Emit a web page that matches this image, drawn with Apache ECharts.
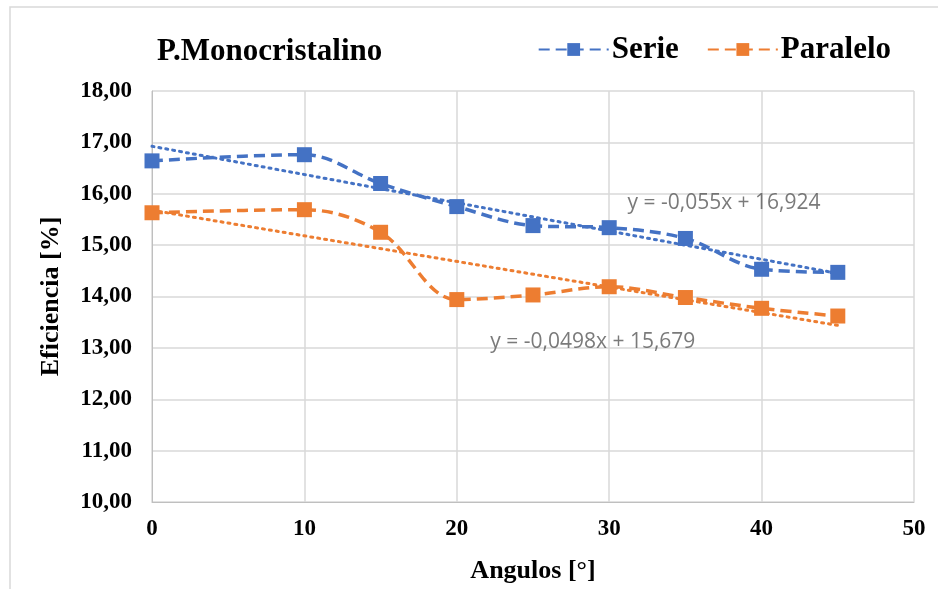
<!DOCTYPE html>
<html><head><meta charset="utf-8">
<script src="https://cdn.jsdelivr.net/npm/echarts@6/dist/echarts.min.js"></script>
<style>html,body{margin:0;padding:0;background:#fff}#c{width:938px;height:589px}</style>
</head><body><div id="c"></div>
<script>
var angulos = [0, 10, 15, 20, 25, 30, 35, 40, 45];
var serie = [16.64, 16.76, 16.20, 15.75, 15.38, 15.34, 15.13, 14.53, 14.47];
var paralelo = [15.63, 15.69, 15.25, 13.94, 14.03, 14.19, 13.98, 13.77, 13.62];
var trendX = [0, 45];
var trendSerie = [16.924, 14.449];
var trendParalelo = [15.679, 13.438];
var eqSerie = 'y = -0,055x + 16,924';
var eqParalelo = 'y = -0,0498x + 15,679';

function pairs(xs, ys){ return xs.map(function(x,i){ return [x, ys[i]]; }); }
var blue = '#4472C4', orange = '#ED7D31';
var serif = '"Liberation Serif","Times New Roman",serif';
var sans = '"Open Sans","Liberation Sans",sans-serif';
var chart = echarts.init(document.getElementById('c'), null, {renderer:'canvas'});
chart.setOption({
  animation: false,
  backgroundColor: '#fff',
  title: { text: 'P.Monocristalino', left: 152, top: 31,
    textStyle: { fontFamily: serif, fontWeight: 'bold', fontSize: 31, color: '#000' } },
  legend: { right: 42, top: 29, itemWidth: 70, itemHeight: 16, itemGap: 28,
    data: ['Serie', 'Paralelo'],
    textStyle: { fontFamily: serif, fontWeight: 'bold', fontSize: 31, color: '#000', padding: [0,0,0,-2] } },
  grid: { left: 152, right: 24, top: 91, bottom: 86 },
  xAxis: { type: 'value', min: 0, max: 50, interval: 10,
    name: 'Angulos [°]', nameLocation: 'middle', nameGap: 56,
    nameTextStyle: { fontFamily: serif, fontWeight: 'bold', fontSize: 26, color: '#000' },
    axisLine: { lineStyle: { color: '#bfbfbf', width: 1 } }, axisTick: { show: false },
    axisLabel: { fontFamily: serif, fontWeight: 'bold', fontSize: 23, color: '#000', margin: 16 },
    splitLine: { show: true, lineStyle: { color: '#d9d9d9', width: 1.5 } } },
  yAxis: { type: 'value', min: 10, max: 18, interval: 1,
    name: 'Eficiencia [%]', nameLocation: 'middle', nameGap: 88, nameRotate: 90,
    nameTextStyle: { fontFamily: serif, fontWeight: 'bold', fontSize: 26, color: '#000' },
    axisLine: { show: true, lineStyle: { color: '#bfbfbf', width: 1 } }, axisTick: { show: false },
    axisLabel: { fontFamily: serif, fontWeight: 'bold', fontSize: 23, color: '#000', margin: 20,
      formatter: function(v){ return v.toFixed(2).replace('.', ','); } },
    splitLine: { show: true, lineStyle: { color: '#d9d9d9', width: 1.5 } } },
  graphic: [
    { type: 'rect', shape: { x: 10, y: 7, width: 940, height: 600 }, style: { fill: 'none', stroke: '#d9d9d9', lineWidth: 1.5 }, silent: true }
  ],
  series: [
    { name: 'trendSerie', type: 'line', data: pairs(trendX, trendSerie), symbol: 'none',
      lineStyle: { color: blue, width: 3, type: [2, 5], cap: 'round' }, z: 2 },
    { name: 'trendParalelo', type: 'line', data: pairs(trendX, trendParalelo), symbol: 'none',
      lineStyle: { color: orange, width: 3, type: [2, 5], cap: 'round' }, z: 2 },
    { name: 'Serie', type: 'line', data: pairs(angulos, serie), smooth: 0.35,
      symbol: 'rect', symbolSize: 15, itemStyle: { color: blue },
      lineStyle: { color: blue, width: 3.5, type: [11, 6] }, z: 3 },
    { name: 'Paralelo', type: 'line', data: pairs(angulos, paralelo), smooth: 0.35,
      symbol: 'rect', symbolSize: 15, itemStyle: { color: orange },
      lineStyle: { color: orange, width: 3.5, type: [11, 6] }, z: 3 },
    { name: 'eq', type: 'scatter', symbolSize: 0, silent: true,
      data: [
        { value: [31.2, 15.82], label: { show: true, formatter: eqSerie, position: 'right', distance: 0,
          fontFamily: sans, fontSize: 21, color: '#595959' } },
        { value: [22.2, 13.12], label: { show: true, formatter: eqParalelo, position: 'right', distance: 0,
          fontFamily: sans, fontSize: 21, color: '#595959' } }
      ] }
  ]
});
</script></body></html>
